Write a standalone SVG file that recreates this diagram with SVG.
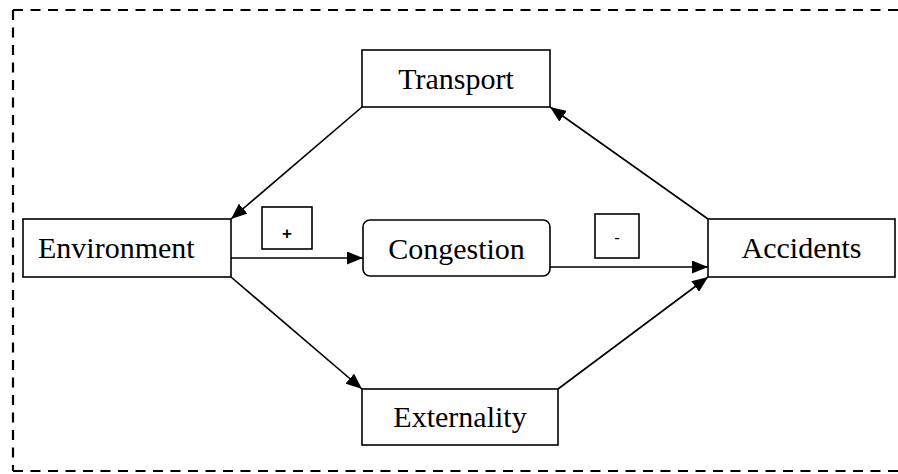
<svg xmlns="http://www.w3.org/2000/svg" width="898" height="474" viewBox="0 0 898 474">
  <style>
    .box { fill: #fff; stroke: #000; stroke-width: 1.6; }
    .label { font-family: "Liberation Serif", "Times New Roman", serif; font-size: 30px; fill: #000; }
    .sign { font-family: "Liberation Sans", Arial, sans-serif; font-size: 17px; fill: #000; text-anchor: middle; }
    .edge { stroke: #000; stroke-width: 1.6; fill: none; marker-end: url(#arrow); }
    .frame { stroke: #000; stroke-width: 2.2; fill: none; stroke-dasharray: 10 7.5; }
  </style>
  <defs>
    <marker id="arrow" viewBox="0 0 16 13" refX="16" refY="6.5" markerWidth="16" markerHeight="13" markerUnits="userSpaceOnUse" orient="auto">
      <path d="M0,0 L16,6.5 L0,13 Z" fill="#000"/>
    </marker>
  </defs>
  <rect width="898" height="474" fill="#fff"/>

  <!-- dashed outer frame (open on the right) -->
  <g id="frame">
    <path class="frame" d="M13,10 H900"/>
    <path class="frame" d="M13,10 V471"/>
    <path class="frame" d="M13,471 H900"/>
  </g>

  <!-- connectors -->
  <g id="connectors">
    <line class="edge" x1="362" y1="107" x2="231" y2="219"/>
    <line class="edge" x1="708" y1="219" x2="550" y2="107"/>
    <line class="edge" x1="231" y1="258" x2="363" y2="258"/>
    <line class="edge" x1="550" y1="267" x2="708" y2="267"/>
    <line class="edge" x1="231" y1="277" x2="362" y2="389"/>
    <line class="edge" x1="558" y1="389" x2="708" y2="277"/>
  </g>

  <g id="transport">
    <rect class="box" x="362" y="50" width="188" height="57"/>
    <text class="label" x="456" y="89" text-anchor="middle">Transport</text>
  </g>

  <g id="environment">
    <rect class="box" x="23" y="219" width="208" height="58"/>
    <text class="label" x="38" y="258">Environment</text>
  </g>

  <g id="congestion">
    <rect class="box" x="363" y="220" width="187" height="56" rx="7" ry="7"/>
    <text class="label" x="456.5" y="259" text-anchor="middle">Congestion</text>
  </g>

  <g id="accidents">
    <rect class="box" x="708" y="219" width="187" height="58"/>
    <text class="label" x="801.5" y="258" text-anchor="middle">Accidents</text>
  </g>

  <g id="externality">
    <rect class="box" x="362" y="389" width="196" height="56"/>
    <text class="label" x="460" y="427" text-anchor="middle">Externality</text>
  </g>

  <g id="sign-plus">
    <rect class="box" x="262" y="207" width="50" height="42"/>
    <text class="sign" x="287" y="239" font-weight="bold">+</text>
  </g>

  <g id="sign-minus">
    <rect class="box" x="595" y="214" width="44" height="44"/>
    <text class="sign" x="617" y="243">-</text>
  </g>
</svg>
